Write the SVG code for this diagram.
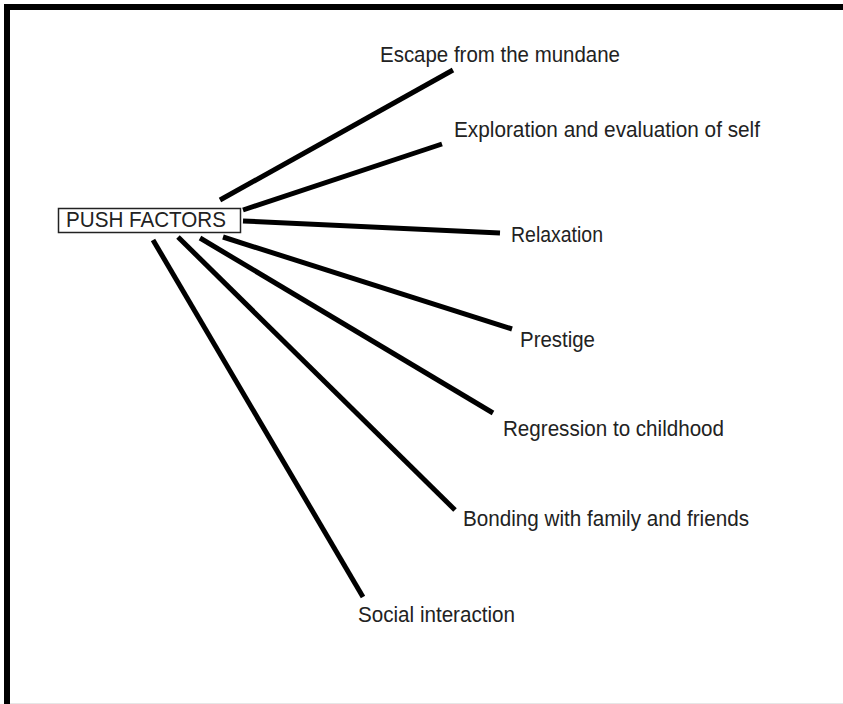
<svg xmlns="http://www.w3.org/2000/svg" width="843" height="704" viewBox="0 0 843 704">
<style>
.lbl{font-family:"Liberation Sans",Arial,sans-serif;font-size:22px;fill:#222}
.con line{stroke:#000;stroke-width:5;stroke-linecap:butt}
</style>
<rect width="843" height="704" fill="#fff"/>
<rect x="4" y="4" width="839" height="6" fill="#000"/>
<rect x="4" y="4" width="6" height="700" fill="#000"/>
<line x1="10" y1="703.5" x2="843" y2="703.5" stroke="#e6e6e6" stroke-width="1"/>
<g id="connectors" class="con">
<line x1="220" y1="200" x2="453" y2="70"/>
<line x1="243" y1="210" x2="442" y2="144"/>
<line x1="243" y1="221" x2="500" y2="233"/>
<line x1="223" y1="237" x2="512" y2="329"/>
<line x1="200" y1="238" x2="493" y2="413"/>
<line x1="178" y1="237" x2="455" y2="510"/>
<line x1="153" y1="240" x2="363" y2="597"/>
</g>
<g id="push-factors">
<rect x="58.5" y="208.5" width="182" height="24" fill="#fff" stroke="#222" stroke-width="1.5"/>
<text class="lbl" x="66" y="227" font-size="21" textLength="160" lengthAdjust="spacingAndGlyphs">PUSH FACTORS</text>
</g>
<g id="escape"><text class="lbl" x="380" y="62" textLength="240" lengthAdjust="spacingAndGlyphs">Escape from the mundane</text></g>
<g id="exploration"><text class="lbl" x="454" y="137" textLength="306" lengthAdjust="spacingAndGlyphs">Exploration and evaluation of self</text></g>
<g id="relaxation"><text class="lbl" x="511" y="242" textLength="92" lengthAdjust="spacingAndGlyphs">Relaxation</text></g>
<g id="prestige"><text class="lbl" x="520" y="347" textLength="75" lengthAdjust="spacingAndGlyphs">Prestige</text></g>
<g id="regression"><text class="lbl" x="503" y="436" textLength="221" lengthAdjust="spacingAndGlyphs">Regression to childhood</text></g>
<g id="bonding"><text class="lbl" x="463" y="526" textLength="286" lengthAdjust="spacingAndGlyphs">Bonding with family and friends</text></g>
<g id="social"><text class="lbl" x="358" y="622" textLength="157" lengthAdjust="spacingAndGlyphs">Social interaction</text></g>
</svg>
